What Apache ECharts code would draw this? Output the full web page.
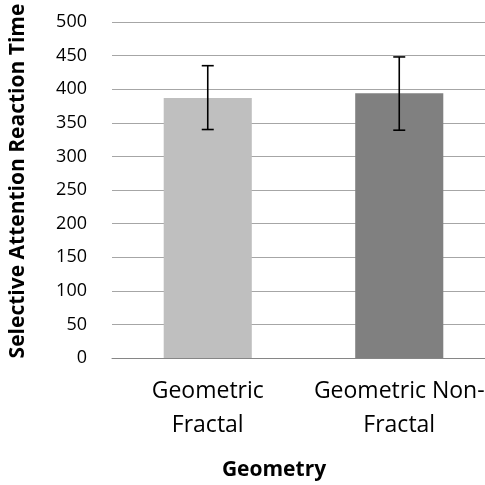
<!DOCTYPE html>
<html><head><meta charset="utf-8">
<script src="https://cdn.jsdelivr.net/npm/echarts@6/dist/echarts.min.js"></script>
<style>html,body{margin:0;padding:0;background:#fff}#c{width:485px;height:485px}</style>
</head><body><div id="c"></div>
<script>
var categories = ['Geometric\nFractal', 'Geometric Non-\nFractal'];
var means = [387, 394];
var errLow = [340, 339];
var errHigh = [435, 448];
var yTicks = [0, 50, 100, 150, 200, 250, 300, 350, 400, 450, 500];
var barColors = ['#bfbfbf', '#808080'];
var yTitle = 'Selective Attention Reaction Time';
var xTitle = 'Geometry';

var font = 'Open Sans';
var chart = echarts.init(document.getElementById('c'), null, {renderer: 'canvas'});
chart.setOption({
  animation: false,
  graphic: [{
    type: 'text', x: 18, y: 181, rotation: Math.PI / 2,
    style: {text: yTitle, fontFamily: font, fontSize: 21, fontWeight: 'bold', fill: '#000',
            textAlign: 'center', textVerticalAlign: 'middle'}
  }, {
    type: 'text', x: 274, y: 470,
    style: {text: xTitle, fontFamily: font, fontSize: 21, fontWeight: 'bold', fill: '#000',
            textAlign: 'center', textVerticalAlign: 'middle'}
  }],
  grid: {left: 112, top: 22, width: 383, height: 336, containLabel: false, outerBoundsMode: 'none'},
  xAxis: {
    type: 'category', data: categories,
    axisLine: {lineStyle: {color: '#868686', width: 1}},
    axisTick: {show: false},
    axisLabel: {fontFamily: font, fontSize: 23, color: '#000', margin: 16, lineHeight: 34, interval: 0}
  },
  yAxis: {
    type: 'value', min: yTicks[0], max: yTicks[yTicks.length - 1], interval: 50,
    axisLine: {show: false}, axisTick: {show: false},
    splitLine: {lineStyle: {color: '#a6a6a6', width: 1}},
    axisLabel: {fontFamily: font, fontSize: 18, color: '#000', margin: 25}
  },
  series: [{
    type: 'bar', barWidth: '46%',
    data: means.map(function (v, i) { return {value: v, itemStyle: {color: barColors[i]}}; }),
    z: 2
  }, {
    type: 'custom', z: 3,
    data: means.map(function (v, i) { return [i, errLow[i], errHigh[i]]; }),
    renderItem: function (params, api) {
      var x = api.value(0);
      var lo = api.coord([x, api.value(1)]);
      var hi = api.coord([x, api.value(2)]);
      var w = 6;
      var st = {stroke: '#000', lineWidth: 1.6};
      return {type: 'group', children: [
        {type: 'line', shape: {x1: lo[0], y1: lo[1], x2: hi[0], y2: hi[1]}, style: st},
        {type: 'line', shape: {x1: lo[0] - w, y1: lo[1], x2: lo[0] + w, y2: lo[1]}, style: st},
        {type: 'line', shape: {x1: hi[0] - w, y1: hi[1], x2: hi[0] + w, y2: hi[1]}, style: st}
      ]};
    }
  }]
});
</script></body></html>
